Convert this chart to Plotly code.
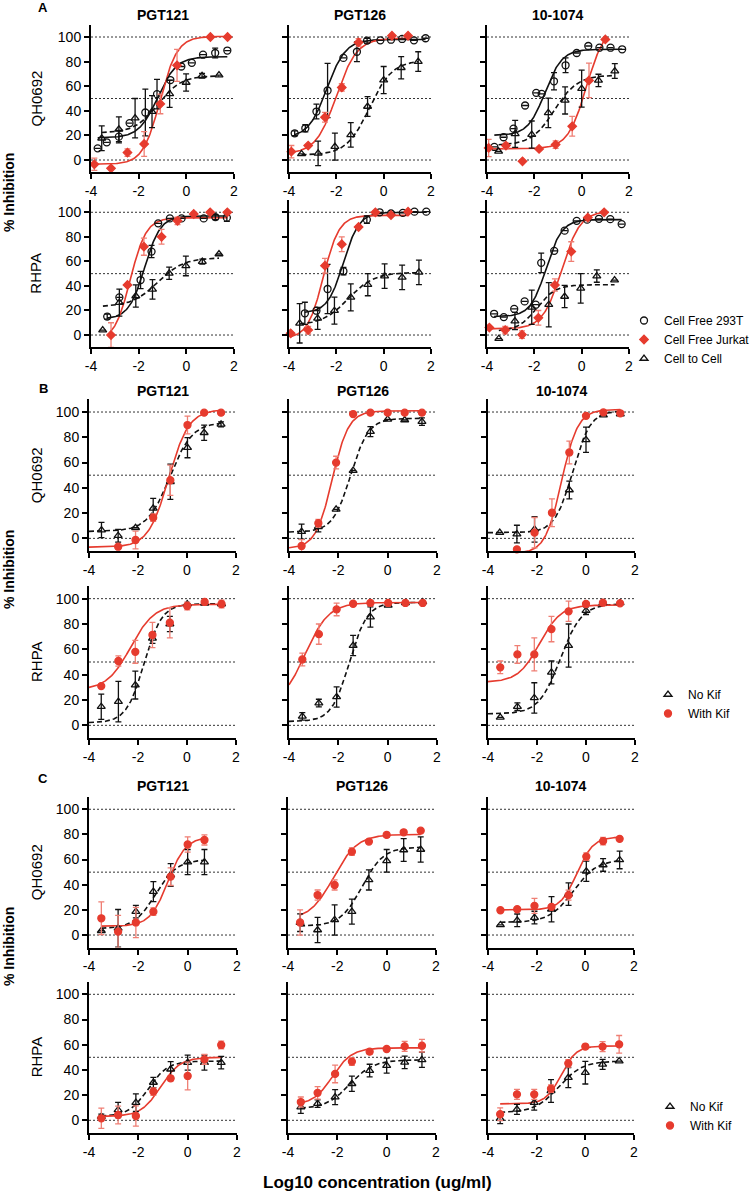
import numpy as np
import plotly.graph_objects as go

# ---------------- DATA (log10 conc, % inhibition, error) ----------------
ANTIBODIES = ["PGT121", "PGT126", "10-1074"]
ISOLATES = ["QH0692", "RHPA"]
X_TICKS = [-4, -2, 0, 2]
X_TICKTEXT = ["-4", "-2", "0", "2"]
Y_TICKS = [0, 20, 40, 60, 80, 100]
REF_LINES = [0, 50, 100]

# Panel A, QH0692
A1_PGT121_293T = [(-3.72, 9.5, 0), (-3.34, 14.4, 0), (-2.83, 19, 5), (-2.38, 30, 0), (-1.72, 38.6, 19), (-1.23, 53.5, 12),
                  (-0.67, 65, 0), (-0.21, 76, 0), (0.23, 79, 0), (0.70, 85.6, 0), (1.21, 87, 4), (1.72, 89, 0)]
A1_PGT121_JURKAT = [(-3.86, -3.5, 5), (-3.16, -6.8, 0), (-2.47, 6, 3), (-1.77, 13, 10), (-1.09, 45.6, 8), (-0.39, 77, 13),
                    (1.01, 100, 0), (1.73, 100, 0)]
A1_PGT121_C2C = [(-3.55, 17.7, 10), (-2.83, 25, 10), (-2.15, 34, 16), (-1.44, 39.4, 13), (-0.70, 53.8, 11), (-0.01, 63, 7),
                 (0.66, 68.5, 2), (1.37, 69, 0)]
A1_PGT126_293T = [(-3.76, 21.7, 2), (-3.31, 25.8, 3), (-2.84, 39.4, 6), (-2.37, 56.5, 22), (-1.70, 83, 0), (-1.13, 88, 8),
                  (-0.70, 97, 2), (-0.14, 97.3, 0), (0.31, 97.8, 0), (0.78, 98.4, 0), (1.28, 97.3, 0), (1.77, 99, 0)]
A1_PGT126_JURKAT = [(-3.90, 6.8, 5), (-3.19, 11.7, 0), (-2.48, 34.8, 4), (-1.77, 59, 3), (-1.06, 95.6, 3), (0.35, 101, 0),
                    (1.03, 101, 0)]
A1_PGT126_C2C = [(-3.47, 4.9, 0), (-2.77, 5.4, 10), (-2.06, 10.9, 11), (-1.39, 20.4, 10), (-0.68, 43.5, 8), (0.0, 65, 11),
                 (0.74, 75, 9), (1.46, 80, 8)]
A1_101074_293T = [(-3.69, 10.6, 0), (-3.30, 18.5, 0), (-2.88, 25.5, 0), (-2.39, 44.3, 0), (-1.92, 54.6, 0), (-1.69, 53.8, 0),
                  (-1.17, 64, 7), (-0.68, 77, 6), (-0.21, 87, 0), (0.28, 92.7, 0), (0.75, 91.3, 0), (1.22, 91.3, 0), (1.71, 90, 0)]
A1_101074_JURKAT = [(-3.93, 9.8, 7), (-3.20, 11.7, 2), (-2.50, -1.1, 0), (-1.80, 9, 0), (-1.10, 12.5, 3), (-0.40, 27.4, 8),
                    (0.31, 64.7, 14), (1.00, 98, 0)]
A1_101074_C2C = [(-3.51, 7, 0), (-2.81, 21.2, 11), (-2.11, 20.7, 11), (-1.41, 38.3, 12), (-0.70, 48.4, 11), (0.0, 58, 15),
                 (0.71, 64.7, 5), (1.40, 72.3, 6)]
# Panel A, RHPA
A2_PGT121_293T = [(-3.32, 15, 2), (-2.81, 30.7, 0), (-1.92, 44.8, 7), (-1.46, 68, 5), (-1.18, 91, 0), (-0.69, 95, 0),
                  (-0.20, 95, 0), (0.73, 95, 0), (1.22, 96, 2), (1.70, 95.6, 3)]
A2_PGT121_JURKAT = [(-3.16, 0, 10), (-2.47, 40.8, 0), (-1.78, 72, 7), (-1.04, 80, 6), (-0.37, 93, 3), (0.31, 98.6, 0),
                    (1.00, 100, 0), (1.72, 100, 0)]
A2_PGT121_C2C = [(-3.51, 4, 0), (-2.81, 26.4, 11), (-2.12, 31.8, 9), (-1.42, 37.2, 8), (-0.72, 50.3, 5), (-0.02, 56.3, 8),
                 (0.67, 59.8, 2), (1.37, 66, 0)]
A2_PGT126_293T = [(-3.33, 17.7, 9), (-2.84, 19.8, 0), (-2.37, 37.5, 20), (-1.70, 52, 3), (-0.71, 94, 3), (-0.17, 100, 0),
                  (0.31, 99, 0), (0.81, 99.5, 0), (1.30, 100.5, 0), (1.80, 100.5, 0)]
A2_PGT126_JURKAT = [(-3.93, 1.4, 0), (-3.19, 4, 3), (-2.48, 56.5, 6), (-1.77, 74, 6), (-1.06, 88, 0), (-0.35, 100, 0),
                    (0.31, 97.8, 0), (1.03, 100.5, 0)]
A2_PGT126_C2C = [(-3.55, 9.5, 16), (-2.79, 13.6, 9), (-2.08, 19.8, 11), (-1.39, 30.7, 11), (-0.67, 41, 9), (0.04, 48, 10),
                 (0.78, 47, 10), (1.49, 51, 10)]
A2_101074_293T = [(-3.70, 17.3, 0), (-3.29, 14.6, 0), (-2.85, 21.3, 0), (-2.41, 27.4, 0), (-1.94, 24.7, 0), (-1.71, 58.8, 8),
                  (-1.16, 68.6, 0), (-0.72, 85, 0), (-0.21, 93, 0), (0.23, 94, 0), (0.73, 94.7, 0), (1.21, 94.4, 0), (1.69, 90.4, 0)]
A2_101074_JURKAT = [(-3.90, 6.1, 0), (-3.23, 4, 3), (-2.52, 0.3, 3), (-1.83, 14, 6), (-1.13, 40.7, 5), (-0.44, 68, 8),
                    (0.26, 95.7, 0), (0.95, 100, 0)]
A2_101074_C2C = [(-3.50, -3, 0), (-2.82, 11.4, 7), (-2.11, 22.6, 14), (-1.39, 24.7, 18), (-0.72, 31.4, 9), (-0.04, 38, 12),
                 (0.64, 48, 5), (1.39, 44.7, 0)]

# Panel B, QH0692
B1_PGT121_NOKIF = [(-3.49, 6.6, 6), (-2.81, 2.1, 5), (-2.10, 8.4, 0), (-1.38, 23.7, 8), (-0.68, 44.8, 14), (0.02, 71.8, 8),
                   (0.70, 83.6, 6), (1.39, 90.2, 2)]
B1_PGT121_KIF = [(-2.81, -6.6, 0), (-2.10, -1.3, 7), (-1.38, 16.4, 3), (-0.68, 46, 12), (0.02, 89.7, 7), (0.70, 99.5, 0),
                 (1.39, 99.5, 0)]
B1_PGT126_NOKIF = [(-3.49, 5.3, 6), (-2.81, 9.2, 4), (-2.09, 23, 0), (-1.40, 53.6, 0), (-0.70, 84.5, 4), (0.0, 94.2, 0),
                   (0.69, 93.7, 0), (1.39, 92.4, 3)]
B1_PGT126_KIF = [(-3.49, -6, 5), (-2.81, 12, 3), (-2.09, 60, 5), (-1.40, 98.4, 0), (-0.70, 99.5, 0), (0.0, 99.5, 0),
                 (0.69, 99.5, 0), (1.39, 99.5, 0)]
B1_101074_NOKIF = [(-3.52, 4.5, 0), (-2.82, 3.4, 7), (-2.10, 7.1, 10), (-0.68, 38.3, 7), (0.0, 78, 10), (0.71, 97.6, 0),
                   (1.40, 98.4, 0)]
B1_101074_KIF = [(-2.82, -8.7, 0), (-2.10, 4.5, 12), (-1.39, 20.3, 11), (-0.68, 68, 9), (0.0, 97, 0), (0.71, 99.7, 0),
                 (1.40, 99, 0)]
# Panel B, RHPA
B2_PGT121_NOKIF = [(-3.50, 14.7, 10), (-2.80, 18.7, 16), (-2.11, 31.8, 11), (-1.41, 68.7, 4), (-0.70, 80, 6), (0.01, 95.8, 0),
                   (0.72, 96.3, 0), (1.41, 95.8, 0)]
B2_PGT121_KIF = [(-3.50, 31, 0), (-2.80, 50.8, 4), (-2.11, 58, 9), (-1.41, 71.3, 10), (-0.70, 81, 12), (0.01, 94.2, 3),
                 (0.72, 97.4, 0), (1.41, 95.8, 3)]
B2_PGT126_NOKIF = [(-3.46, 7.1, 3), (-2.79, 17.6, 3), (-2.07, 22.4, 8), (-1.40, 63, 8), (-0.70, 85.5, 8), (0.02, 94.7, 0),
                   (0.72, 96.6, 0), (1.42, 97.4, 0)]
B2_PGT126_KIF = [(-3.46, 52, 5), (-2.79, 72, 8), (-2.07, 91.5, 5), (-1.40, 96, 0), (-0.70, 96.6, 0), (0.02, 96.6, 0),
                 (0.72, 96.6, 0), (1.42, 96.6, 0)]
B2_101074_NOKIF = [(-3.50, 6.3, 0), (-2.80, 14.7, 3), (-2.11, 21.6, 12), (-1.41, 41.8, 9), (-0.71, 63, 17), (0.0, 90.5, 3),
                   (0.69, 96.6, 0), (1.39, 96.6, 0)]
B2_101074_KIF = [(-3.50, 45.8, 5), (-2.80, 56, 7), (-2.11, 56, 13), (-1.41, 76, 10), (-0.71, 90, 8), (0.0, 95.8, 0),
                 (0.69, 96.8, 0), (1.39, 96.3, 0)]

# Panel C, QH0692
C1_PGT121_NOKIF = [(-3.50, 3.4, 0), (-2.82, 5.3, 15), (-2.10, 18.6, 5), (-1.39, 34.5, 8), (-0.69, 47.7, 9), (0.0, 58, 10),
                   (0.68, 58, 10)]
C1_PGT121_KIF = [(-3.50, 13.3, 13), (-2.82, 2.7, 13), (-2.10, 10, 12), (-1.39, 18.6, 3), (-0.69, 46.4, 7), (0.0, 72, 6),
                 (0.68, 75.6, 4)]
C1_PGT126_NOKIF = [(-3.51, 9.8, 7), (-2.80, 4, 10), (-2.11, 12, 12), (-1.41, 18.6, 10), (-0.72, 43.8, 8), (0.0, 59, 9),
                   (0.69, 67.6, 9), (1.38, 68, 10)]
C1_PGT126_KIF = [(-3.51, 10, 10), (-2.80, 31.8, 4), (-2.11, 39.8, 4), (-1.41, 66.3, 3), (-0.72, 74.3, 0), (0.0, 79.6, 2),
                 (0.69, 81.7, 0), (1.38, 83, 0)]
C1_101074_NOKIF = [(-3.49, 8, 0), (-2.80, 11.7, 5), (-2.09, 13.9, 5), (-1.39, 20.5, 10), (-0.69, 32.5, 9), (0.04, 50.7, 8),
                   (0.73, 55.7, 5), (1.41, 59.7, 7)]
C1_101074_KIF = [(-3.49, 19.7, 0), (-2.80, 20.5, 0), (-2.09, 23.2, 6), (-1.39, 22.4, 0), (-0.69, 31.7, 4), (0.04, 62.4, 3),
                 (0.73, 74.7, 3), (1.41, 76.5, 0)]
# Panel C, RHPA
C2_PGT121_NOKIF = [(-3.50, 2.9, 2), (-2.82, 8.2, 6), (-2.10, 14, 7), (-1.39, 30, 4), (-0.69, 40.5, 6), (0.0, 45.8, 6),
                   (0.68, 45.8, 6), (1.36, 45.8, 5)]
C2_PGT121_KIF = [(-3.50, 1.6, 8), (-2.82, 4.2, 7), (-2.10, 3.4, 8), (-1.39, 22.8, 3), (-0.69, 33.3, 2), (0.0, 35.2, 11),
                 (0.68, 48.4, 4), (1.36, 59.8, 3)]
C2_PGT126_NOKIF = [(-3.48, 10.5, 5), (-2.80, 13.2, 3), (-2.09, 18.4, 6), (-1.41, 29, 6), (-0.69, 39.5, 5), (0.0, 43.4, 6),
                   (0.73, 46, 5), (1.43, 48, 6)]
C2_PGT126_KIF = [(-3.48, 14.5, 4), (-2.80, 21.8, 5), (-2.09, 36.8, 7), (-1.41, 46.6, 3), (-0.69, 54.5, 2), (0.0, 56.6, 0),
                 (0.73, 58.7, 4), (1.43, 59.2, 5)]
C2_101074_NOKIF = [(-3.50, 1.3, 4), (-2.81, 8.7, 4), (-2.10, 14, 6), (-1.41, 23.3, 9), (-0.70, 33.9, 8), (0.0, 37.8, 9),
                   (0.71, 44.4, 4), (1.39, 47, 0)]
C2_101074_KIF = [(-3.50, 4.8, 5), (-2.81, 20.6, 4), (-2.10, 20.6, 4), (-1.41, 25.1, 3), (-0.70, 45.2, 3), (0.0, 58.5, 2),
                 (0.71, 58.5, 4), (1.39, 60.3, 7)]

# Fitted 4-parameter logistic curves: (bottom, top, logIC50, hill, x_from, x_to)
FIT_A1_PGT121 = {"293T": (18, 84, -1.2, 1.1, -3.72, 1.72), "JURKAT": (-3.5, 100.5, -1.1, 1.2, -4, 1.73), "C2C": (22, 68.5, -1.2, 0.9, -3.55, 1.37)}
FIT_A1_PGT126 = {"293T": (18, 98, -2.4, 1.1, -3.76, 1.77), "JURKAT": (5, 99, -2.0, 1.0, -3.9, 1.03), "C2C": (4, 81, -0.6, 0.9, -3.47, 1.46)}
FIT_A1_101074 = {"293T": (20, 90, -1.55, 1.2, -3.69, 1.71), "JURKAT": (9, 110, 0.2, 1.1, -3.93, 1.0), "C2C": (12, 69, -1.15, 0.9, -3.51, 1.4)}
FIT_A2_PGT121 = {"293T": (13, 97, -1.75, 1.3, -3.32, 1.7), "JURKAT": (-5, 95.5, -2.35, 1.3, -3.2, 1.72), "C2C": (23, 63, -1.2, 0.8, -3.5, 1.37)}
FIT_A2_PGT126 = {"293T": (18, 100, -1.7, 1.3, -3.33, 1.8), "JURKAT": (-3, 97.5, -2.55, 1.3, -3.93, 1.03), "C2C": (8, 51, -1.5, 0.8, -3.55, 1.49)}
FIT_A2_101074 = {"293T": (15, 94, -1.5, 1.3, -3.7, 1.69), "JURKAT": (5, 101, -0.85, 1.1, -3.9, 0.95), "C2C": (3, 41, -1.9, 1.1, -3.5, 1.39)}
FIT_B1_PGT121 = {"NOKIF": (5.5, 92, -0.7, 0.95, -4, 1.39), "KIF": (-7, 102, -0.75, 1.05, -4, 1.39)}
FIT_B1_PGT126 = {"NOKIF": (5, 95, -1.5, 1.2, -4, 1.39), "KIF": (-8, 101, -2.25, 1.3, -4, 1.39)}
FIT_B1_101074 = {"NOKIF": (4.5, 101, -0.55, 1.2, -4, 1.4), "KIF": (-12, 102, -1.0, 1.3, -4, 1.4)}
FIT_B2_PGT121 = {"NOKIF": (2, 96, -1.75, 1.2, -4, 1.41), "KIF": (28, 95.5, -2.3, 0.9, -4, 1.41)}
FIT_B2_PGT126 = {"NOKIF": (3, 97, -1.55, 1.2, -4, 1.42), "KIF": (15, 97, -3.35, 0.9, -4, 1.42)}
FIT_B2_101074 = {"NOKIF": (9, 96, -1.05, 1.0, -4, 1.39), "KIF": (34, 95, -1.9, 1.0, -4, 1.39)}
FIT_C1_PGT121 = {"NOKIF": (5, 60, -1.3, 1.0, -3.5, 0.68), "KIF": (7, 78, -0.8, 1.2, -3.5, 0.68)}
FIT_C1_PGT126 = {"NOKIF": (7, 70, -1.0, 1.0, -3.51, 1.38), "KIF": (12, 80, -2.15, 0.9, -3.51, 1.38)}
FIT_C1_101074 = {"NOKIF": (10, 60, -0.5, 0.9, -3.49, 1.41), "KIF": (20, 78, -0.35, 1.3, -3.49, 1.41)}
FIT_C2_PGT121 = {"NOKIF": (3, 47, -1.6, 1.1, -3.5, 1.36), "KIF": (3, 50, -1.1, 1.1, -3.5, 1.36)}
FIT_C2_PGT126 = {"NOKIF": (9, 48, -1.5, 0.9, -3.48, 1.43), "KIF": (12, 57.5, -2.2, 1.1, -3.48, 1.43)}
FIT_C2_101074 = {"NOKIF": (6, 47, -1.1, 0.9, -3.5, 1.39), "KIF": (13, 59, -1.0, 1.4, -3.5, 1.39)}

SUBPLOTS = [
    ("A", 0, 0, {"293T": A1_PGT121_293T, "JURKAT": A1_PGT121_JURKAT, "C2C": A1_PGT121_C2C}, FIT_A1_PGT121),
    ("A", 0, 1, {"293T": A1_PGT126_293T, "JURKAT": A1_PGT126_JURKAT, "C2C": A1_PGT126_C2C}, FIT_A1_PGT126),
    ("A", 0, 2, {"293T": A1_101074_293T, "JURKAT": A1_101074_JURKAT, "C2C": A1_101074_C2C}, FIT_A1_101074),
    ("A", 1, 0, {"293T": A2_PGT121_293T, "JURKAT": A2_PGT121_JURKAT, "C2C": A2_PGT121_C2C}, FIT_A2_PGT121),
    ("A", 1, 1, {"293T": A2_PGT126_293T, "JURKAT": A2_PGT126_JURKAT, "C2C": A2_PGT126_C2C}, FIT_A2_PGT126),
    ("A", 1, 2, {"293T": A2_101074_293T, "JURKAT": A2_101074_JURKAT, "C2C": A2_101074_C2C}, FIT_A2_101074),
    ("B", 0, 0, {"NOKIF": B1_PGT121_NOKIF, "KIF": B1_PGT121_KIF}, FIT_B1_PGT121),
    ("B", 0, 1, {"NOKIF": B1_PGT126_NOKIF, "KIF": B1_PGT126_KIF}, FIT_B1_PGT126),
    ("B", 0, 2, {"NOKIF": B1_101074_NOKIF, "KIF": B1_101074_KIF}, FIT_B1_101074),
    ("B", 1, 0, {"NOKIF": B2_PGT121_NOKIF, "KIF": B2_PGT121_KIF}, FIT_B2_PGT121),
    ("B", 1, 1, {"NOKIF": B2_PGT126_NOKIF, "KIF": B2_PGT126_KIF}, FIT_B2_PGT126),
    ("B", 1, 2, {"NOKIF": B2_101074_NOKIF, "KIF": B2_101074_KIF}, FIT_B2_101074),
    ("C", 0, 0, {"NOKIF": C1_PGT121_NOKIF, "KIF": C1_PGT121_KIF}, FIT_C1_PGT121),
    ("C", 0, 1, {"NOKIF": C1_PGT126_NOKIF, "KIF": C1_PGT126_KIF}, FIT_C1_PGT126),
    ("C", 0, 2, {"NOKIF": C1_101074_NOKIF, "KIF": C1_101074_KIF}, FIT_C1_101074),
    ("C", 1, 0, {"NOKIF": C2_PGT121_NOKIF, "KIF": C2_PGT121_KIF}, FIT_C2_PGT121),
    ("C", 1, 1, {"NOKIF": C2_PGT126_NOKIF, "KIF": C2_PGT126_KIF}, FIT_C2_PGT126),
    ("C", 1, 2, {"NOKIF": C2_101074_NOKIF, "KIF": C2_101074_KIF}, FIT_C2_101074),
]

# ---------------- STYLE / LAYOUT ----------------
W, H = 750, 1196
FONT = "Liberation Sans, Arial, Helvetica, sans-serif"
RED = "#E63B2E"
RED_ERR = "#EF7F74"
BLK = "#111111"

COLS_PX = {"A": [(91, 234), (289, 431), (487, 629)],
           "B": [(89, 236), (289, 437), (488, 635)],
           "C": [(89, 237), (288, 436), (488, 634)]}
ROWS_PX = {"A": [(24.7, 172.3), (200, 347.3)],
           "B": [(399.4, 551), (586, 738)],
           "C": [(796.7, 947.6), (981.7, 1132.9)]}
TITLE_Y = {"A": 15, "B": 391, "C": 786}
LETTER_Y = {"A": 8, "B": 388, "C": 778}
INHIB_Y = {"A": 193, "B": 570, "C": 947}
LEGEND_POS = {"A": ("legend", 624, 306), "B": ("legend2", 648, 680), "C": ("legend3", 650, 1092)}

STYLE = {
    "293T": dict(name="Cell Free 293T", symbol="circle-open", size=7, color=BLK, err=BLK, dash="solid", rank=1),
    "JURKAT": dict(name="Cell Free Jurkat", symbol="diamond", size=6.5, color=RED, err=RED_ERR, dash="solid", rank=2),
    "C2C": dict(name="Cell to Cell", symbol="triangle-up-open", size=7, color=BLK, err=BLK, dash="5px,3px", rank=3),
    "NOKIF": dict(name="No Kif", symbol="triangle-up-open", size=7, color=BLK, err=BLK, dash="5px,3px", rank=1),
    "KIF": dict(name="With Kif", symbol="circle", size=7, color=RED, err=RED_ERR, dash="solid", rank=2),
}


def fourpl(x, b, t, ic, h):
    return b + (t - b) / (1 + 10 ** ((ic - x) * h))


fig = go.Figure()
layout = {}
shapes = []
annotations = []
legend_done = set()
TICKFONT = dict(family=FONT, size=14, color="black")

for n, (panel, row, col, series, fits) in enumerate(SUBPLOTS, start=1):
    xs = "" if n == 1 else str(n)
    x0, x1 = COLS_PX[panel][col]
    ytop, ybot = ROWS_PX[panel][row]
    layout["xaxis" + xs] = dict(
        domain=[x0 / W, x1 / W], range=[-4, 2], anchor="y" + xs,
        tickmode="array", tickvals=X_TICKS, ticktext=X_TICKTEXT,
        showline=True, linewidth=2, linecolor="black", ticks="outside", ticklen=5,
        tickwidth=1.5, tickcolor="black", showgrid=False, zeroline=False,
        tickfont=TICKFONT, fixedrange=True)
    layout["yaxis" + xs] = dict(
        domain=[1 - ybot / H, 1 - ytop / H], range=[-10, 110], anchor="x" + xs,
        tickmode="array", tickvals=Y_TICKS, showticklabels=(col == 0),
        showline=True, linewidth=2, linecolor="black", ticks="outside", ticklen=5,
        tickwidth=1.5, tickcolor="black", showgrid=False, zeroline=False,
        tickfont=TICKFONT, fixedrange=True)
    for v in REF_LINES:
        shapes.append(dict(type="line", xref="x" + xs, yref="y" + xs, x0=-4, x1=2, y0=v, y1=v,
                           line=dict(color="#333333", width=1, dash="2px,2px"), layer="below"))
    legname = LEGEND_POS[panel][0]
    for key, pts in series.items():
        st = STYLE[key]
        b, t, ic, h, xa, xb = fits[key]
        xc = np.linspace(xa, xb, 200)
        fig.add_trace(go.Scatter(x=xc, y=fourpl(xc, b, t, ic, h), mode="lines", xaxis="x" + xs, yaxis="y" + xs,
                                 line=dict(color=st["color"], width=1.6, dash=st["dash"]),
                                 showlegend=False, hoverinfo="skip"))
    for key, pts in series.items():
        st = STYLE[key]
        show = (panel, key) not in legend_done
        legend_done.add((panel, key))
        fig.add_trace(go.Scatter(
            x=[p[0] for p in pts], y=[p[1] for p in pts], mode="markers", xaxis="x" + xs, yaxis="y" + xs,
            name=st["name"], legend=legname, showlegend=show, legendrank=st["rank"],
            marker=dict(symbol=st["symbol"], size=st["size"], color=st["color"],
                        line=dict(color=st["color"], width=1.3)),
            error_y=dict(type="data", array=[p[2] for p in pts], visible=True, color=st["err"],
                         thickness=1.3, width=3),
            cliponaxis=False))

# column titles, letters, row labels
for panel in ["A", "B", "C"]:
    for col, ab in enumerate(ANTIBODIES):
        x0, x1 = COLS_PX[panel][col]
        annotations.append(dict(text="<b>%s</b>" % ab, x=(x0 + x1) / 2 / W, y=1 - TITLE_Y[panel] / H,
                                xref="paper", yref="paper", showarrow=False, xanchor="center", yanchor="middle",
                                font=dict(family=FONT, size=14, color="black")))
    annotations.append(dict(text="<b>%s</b>" % panel, x=43 / W, y=1 - LETTER_Y[panel] / H, xref="paper",
                            yref="paper", showarrow=False, xanchor="center", yanchor="middle",
                            font=dict(family=FONT, size=13, color="black")))
    annotations.append(dict(text="<b>% Inhibition</b>", x=9 / W, y=1 - INHIB_Y[panel] / H, xref="paper",
                            yref="paper", showarrow=False, xanchor="center", yanchor="middle", textangle=-90,
                            font=dict(family=FONT, size=14, color="black")))
    for row, iso in enumerate(ISOLATES):
        ytop, ybot = ROWS_PX[panel][row]
        annotations.append(dict(text=iso, x=36 / W, y=1 - ((ytop + ybot) / 2) / H, xref="paper",
                                yref="paper", showarrow=False, xanchor="center", yanchor="middle", textangle=-90,
                                font=dict(family=FONT, size=15, color="black")))

annotations.append(dict(text="<b>Log10 concentration (ug/ml)</b>", x=377 / W, y=1 - 1182 / H, xref="paper",
                        yref="paper", showarrow=False, xanchor="center", yanchor="middle",
                        font=dict(family=FONT, size=17, color="black")))

for panel, (lname, lx, ly) in LEGEND_POS.items():
    layout[lname] = dict(x=lx / W, y=1 - ly / H, xanchor="left", yanchor="top", xref="paper", yref="paper",
                         bgcolor="rgba(0,0,0,0)", borderwidth=0,
                         font=dict(family=FONT, size=12, color="black"), itemclick=False)

fig.update_layout(**layout)
fig.update_layout(width=W, height=H, margin=dict(l=0, r=0, t=0, b=0, autoexpand=False),
                  paper_bgcolor="white", plot_bgcolor="white", shapes=shapes, annotations=annotations,
                  font=dict(family=FONT, color="black"), hovermode=False)

# remove the browser's default 8px body margin so the figure sits at the page origin
fig.write_html("out.html", config={"displayModeBar": False},
               post_script="document.body.style.margin='0px';document.body.style.overflow='hidden';")
